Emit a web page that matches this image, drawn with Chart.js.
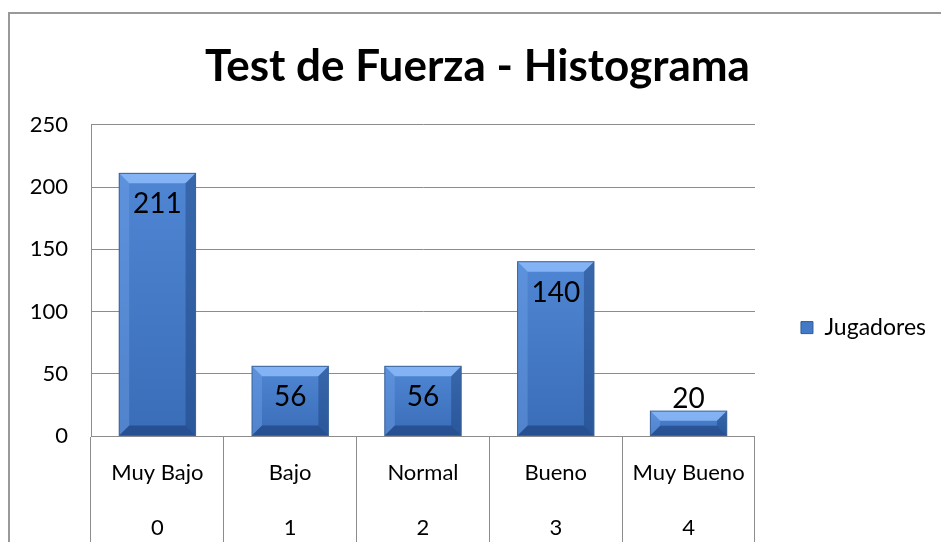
<!DOCTYPE html>
<html>
<head>
<meta charset="utf-8">
<script src="https://cdn.jsdelivr.net/npm/chart.js@4"></script>
<style>
  body { margin: 0; background: #fff; }
  #wrap { width: 941px; height: 542px; }
</style>
</head>
<body>
<div id="wrap"><canvas id="fuerzaChart" width="941" height="542"></canvas></div>
<script>
// data
const categories = ['Muy Bajo', 'Bajo', 'Normal', 'Bueno', 'Muy Bueno'];
const codes = ['0', '1', '2', '3', '4'];
const jugadores = [211, 56, 56, 140, 20];
const yTicks = [0, 50, 100, 150, 200, 250];

const gray = '#8c8c8c';

// chart frame like the spreadsheet one
const framePlugin = {
    id: 'frame',
    beforeDraw(chart) {
        const c = chart.ctx;
        c.save();
        c.fillStyle = '#fff';
        c.fillRect(0, 0, chart.width, chart.height);
        c.strokeStyle = '#999';
        c.lineWidth = 2;
        c.strokeRect(9, 13, chart.width + 20, chart.height + 20);
        c.restore();
    }
};

// bevel edges + value labels on the bars
const bevelPlugin = {
    id: 'bevel',
    afterDatasetsDraw(chart) {
        const c = chart.ctx;
        const meta = chart.getDatasetMeta(0);
        meta.data.forEach((bar, i) => {
            const l = bar.x - bar.width / 2, r = bar.x + bar.width / 2;
            const t = bar.y, b = bar.base;
            const bv = Math.min(10, (b - t) / 2.5);
            const poly = (pts, col) => {
                c.beginPath();
                c.moveTo(pts[0][0], pts[0][1]);
                pts.slice(1).forEach(p => c.lineTo(p[0], p[1]));
                c.closePath();
                c.fillStyle = col;
                c.fill();
            };
            c.save();
            // face shading
            const g = c.createLinearGradient(0, t, 0, b);
            g.addColorStop(0, '#4f86d3');
            g.addColorStop(1, '#3a6db8');
            c.fillStyle = g;
            c.fillRect(l, t, r - l, b - t);
            poly([[l, t], [r, t], [r - bv, t + bv], [l + bv, t + bv]], 'rgba(150,195,255,0.75)');
            poly([[l, t], [l + bv, t + bv], [l + bv, b - bv], [l, b]], 'rgba(110,160,230,0.45)');
            poly([[r, t], [r - bv, t + bv], [r - bv, b - bv], [r, b]], 'rgba(15,45,100,0.35)');
            poly([[l, b], [l + bv, b - bv], [r - bv, b - bv], [r, b]], 'rgba(15,45,100,0.45)');
            c.strokeStyle = '#3a6398';
            c.lineWidth = 1;
            c.strokeRect(l, t, r - l, b - t);

            c.fillStyle = '#000';
            c.font = '28px Lato';
            c.textAlign = 'center';
            c.textBaseline = 'middle';
            c.fillText(String(jugadores[i]), bar.x, Math.min(t + 31, b - 37));
            c.restore();
        });
    }
};

const ctx = document.getElementById('fuerzaChart').getContext('2d');
const fuerzaChart = new Chart(ctx, {
    type: 'bar',
    data: {
        labels: categories.map((c, i) => [c, codes[i]]),
        datasets: [
            {
                label: 'Jugadores',
                data: jugadores,
                backgroundColor: '#4479c6',
                borderColor: '#2f5b96',
                borderWidth: 1,
                categoryPercentage: 1,
                barPercentage: 0.575
            }
        ]
    },
    options: {
        responsive: false,
        animation: false,
        layout: {
            padding: { left: 19, right: 5, top: 0, bottom: 0 }
        },
        scales: {
            x: {
                grid: {
                    display: true,
                    drawOnChartArea: false,
                    drawTicks: true,
                    tickLength: 106,
                    offset: true,
                    color: gray
                },
                border: { display: true, color: gray },
                ticks: {
                    color: '#000',
                    padding: -97,
                    font: { family: 'Lato', size: 22, lineHeight: 2.5 }
                },
                afterFit(scale) { scale.height = 106; }
            },
            y: {
                min: 0,
                max: 250,
                afterBuildTicks(scale) { scale.ticks = yTicks.map(v => ({ value: v })); },
                grid: { color: gray, drawTicks: false },
                border: { display: true, color: gray },
                ticks: {
                    color: '#000',
                    padding: 23,
                    font: { family: 'Lato', size: 22 }
                },
                afterFit(scale) { scale.width = 72; }
            }
        },
        plugins: {
            title: {
                display: true,
                text: 'Test de Fuerza - Histograma',
                color: '#000',
                font: { family: 'Lato', size: 44, weight: 'bold', lineHeight: 1.2 },
                padding: { top: 40, bottom: 32 }
            },
            legend: {
                display: true,
                position: 'right',
                fullSize: false,
                maxWidth: 187,
                // empty title only pushes the entry down to the spot it has in the picture
                title: { display: true, text: '', font: { size: 12, lineHeight: 1.2 }, padding: 40 },
                labels: {
                    color: '#000',
                    boxWidth: 12,
                    boxHeight: 12,
                    padding: 46,
                    font: { family: 'Lato', size: 23 }
                }
            },
            tooltip: { enabled: false }
        }
    },
    plugins: [framePlugin, bevelPlugin]
});
</script>
</body>
</html>
